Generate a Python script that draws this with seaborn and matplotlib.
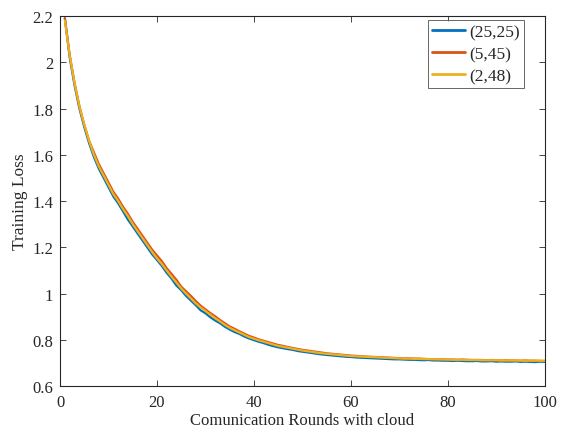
import numpy as np
import pandas as pd
import seaborn as sns
import matplotlib.pyplot as plt

rounds = list(range(1, 101))

loss_25_25 = [
    2.19, 2.02, 1.90, 1.80, 1.72, 1.65, 1.59, 1.54, 1.50, 1.46,
    1.42, 1.39, 1.355, 1.32, 1.29, 1.26, 1.23, 1.20, 1.17, 1.145,
    1.12, 1.09, 1.065, 1.035, 1.015, 0.99, 0.97, 0.95, 0.928, 0.915,
    0.898, 0.884, 0.872, 0.857, 0.845, 0.834, 0.826, 0.815, 0.806, 0.799,
    0.792, 0.786, 0.779, 0.773, 0.768, 0.764, 0.760, 0.757, 0.752, 0.749,
    0.746, 0.743, 0.740, 0.737, 0.735, 0.733, 0.731, 0.729, 0.727, 0.726,
    0.724, 0.723, 0.722, 0.721, 0.720, 0.719, 0.718, 0.717, 0.716, 0.716,
    0.715, 0.714, 0.714, 0.713, 0.712, 0.713, 0.711, 0.711, 0.710, 0.710,
    0.709, 0.710, 0.709, 0.708, 0.708, 0.709, 0.707, 0.707, 0.708, 0.706,
    0.707, 0.706, 0.706, 0.707, 0.705, 0.706, 0.705, 0.704, 0.706, 0.705,
]

loss_5_45 = [
    2.19, 2.03, 1.91, 1.81, 1.73, 1.66, 1.61, 1.56, 1.52, 1.48,
    1.44, 1.41, 1.375, 1.345, 1.31, 1.28, 1.25, 1.22, 1.19, 1.165,
    1.14, 1.11, 1.085, 1.06, 1.03, 1.01, 0.99, 0.968, 0.948, 0.932,
    0.916, 0.902, 0.886, 0.872, 0.858, 0.848, 0.837, 0.827, 0.817, 0.810,
    0.802, 0.796, 0.790, 0.784, 0.778, 0.774, 0.769, 0.765, 0.761, 0.757,
    0.754, 0.751, 0.748, 0.745, 0.742, 0.740, 0.738, 0.736, 0.734, 0.732,
    0.731, 0.729, 0.728, 0.727, 0.726, 0.725, 0.724, 0.723, 0.722, 0.721,
    0.720, 0.720, 0.719, 0.719, 0.718, 0.717, 0.717, 0.716, 0.716, 0.715,
    0.715, 0.714, 0.715, 0.714, 0.713, 0.713, 0.713, 0.712, 0.713, 0.712,
    0.711, 0.712, 0.711, 0.711, 0.710, 0.711, 0.710, 0.710, 0.709, 0.709,
]

loss_2_48 = [
    2.18, 2.03, 1.91, 1.81, 1.73, 1.66, 1.60, 1.55, 1.51, 1.47,
    1.43, 1.40, 1.365, 1.335, 1.30, 1.27, 1.24, 1.21, 1.18, 1.152,
    1.128, 1.10, 1.073, 1.048, 1.022, 1.00, 0.979, 0.958, 0.940, 0.925,
    0.909, 0.894, 0.880, 0.865, 0.852, 0.842, 0.832, 0.822, 0.812, 0.805,
    0.798, 0.792, 0.786, 0.780, 0.774, 0.770, 0.766, 0.762, 0.758, 0.754,
    0.751, 0.748, 0.745, 0.742, 0.740, 0.738, 0.736, 0.734, 0.732, 0.730,
    0.729, 0.728, 0.727, 0.726, 0.725, 0.724, 0.723, 0.722, 0.721, 0.720,
    0.719, 0.719, 0.718, 0.718, 0.717, 0.717, 0.716, 0.716, 0.715, 0.715,
    0.714, 0.714, 0.714, 0.713, 0.713, 0.713, 0.712, 0.712, 0.712, 0.712,
    0.711, 0.711, 0.711, 0.711, 0.710, 0.710, 0.710, 0.710, 0.710, 0.709,
]

labels = ['(25,25)', '(5,45)', '(2,48)']
colors = ['#0072BD', '#D95319', '#EDB120']

df = pd.DataFrame({
    'round': rounds * 3,
    'loss': loss_25_25 + loss_5_45 + loss_2_48,
    'setting': [labels[0]] * 100 + [labels[1]] * 100 + [labels[2]] * 100,
})

sns.set_style('ticks')
plt.rcParams['font.family'] = ['Liberation Serif', 'DejaVu Serif']

fig = plt.figure(figsize=(5.61, 4.35), dpi=100)
ax = fig.add_axes([0.107, 0.110, 0.864, 0.851])

sns.lineplot(data=df, x='round', y='loss', hue='setting', hue_order=labels,
             palette=colors, linewidth=1.6, ax=ax)

ax.set_xlim(0, 100)
ax.set_ylim(0.6, 2.2)
ax.set_xticks([0, 20, 40, 60, 80, 100])
ax.set_yticks([0.6, 0.8, 1.0, 1.2, 1.4, 1.6, 1.8, 2.0, 2.2])
ax.set_yticklabels(['0.6', '0.8', '1', '1.2', '1.4', '1.6', '1.8', '2', '2.2'])
ax.tick_params(direction='in', top=True, right=True, length=4, width=0.6,
               colors='#262626', labelsize=12, labelcolor='#262626')
ax.tick_params(axis='x', pad=6)
ax.tick_params(axis='y', pad=5)
for s in ax.spines.values():
    s.set_linewidth(0.8)
    s.set_color('#262626')

ax.set_xlabel('Comunication Rounds with cloud', fontsize=12, color='#262626', labelpad=1)
ax.set_ylabel('Training Loss', fontsize=12.5, color='#262626', labelpad=3)

leg = ax.legend(loc='upper right', bbox_to_anchor=(0.957, 0.989), fontsize=12.5,
                frameon=True, fancybox=False, handlelength=1.9, handletextpad=0.2,
                borderpad=0.25, labelspacing=0.32, borderaxespad=0)
leg.get_frame().set_edgecolor('#404040')
leg.get_frame().set_linewidth(0.7)
for line in leg.get_lines():
    line.set_linewidth(2)

plt.savefig('out.png', dpi=100)
